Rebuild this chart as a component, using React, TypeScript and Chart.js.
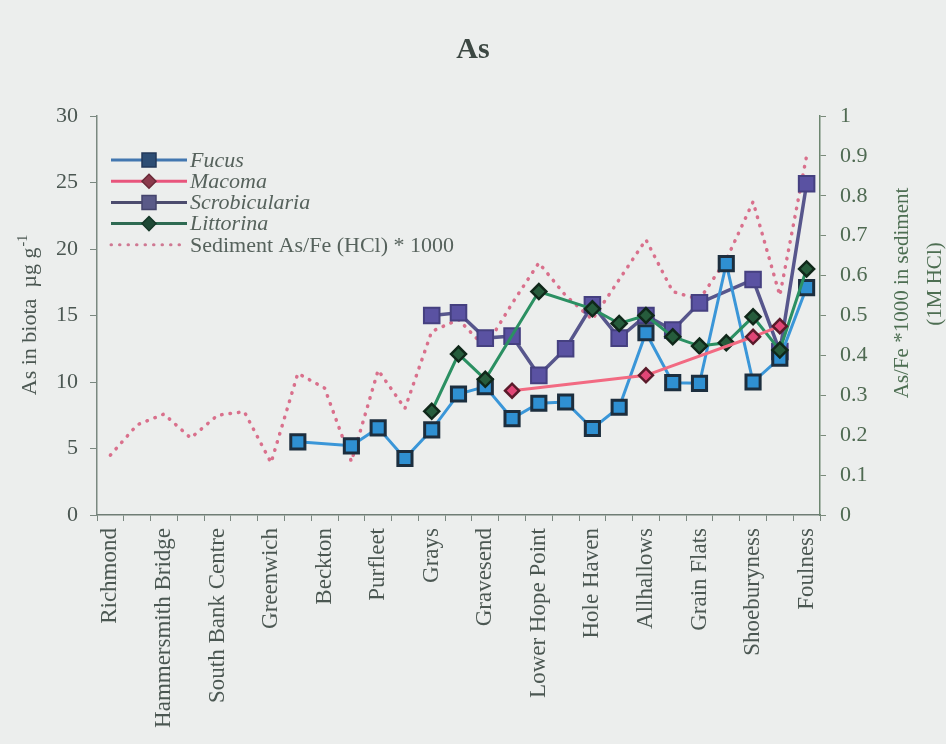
import React, { useEffect, useRef } from 'react';
import { Chart, registerables } from 'chart.js';

Chart.register(...registerables);

// ---- data ----
const sites: string[] = [
  'Richmond', '', 'Hammersmith Bridge', '', 'South Bank Centre', '', 'Greenwich', '',
  'Beckton', '', 'Purfleet', '', 'Grays', '', 'Gravesend', '', 'Lower Hope Point', '',
  'Hole Haven', '', 'Allhallows', '', 'Grain Flats', '', 'Shoeburyness', '', 'Foulness',
];

const fucus: (number | null)[] = [
  null, null, null, null, null, null, null, 5.5, null, 5.2, 6.55, 4.25, 6.4, 9.1,
  9.65, 7.25, 8.4, 8.5, 6.5, 8.1, 13.7, 9.95, 9.9, 18.9, 10.0, 11.8, 17.1,
];
const macoma: (number | null)[] = [
  null, null, null, null, null, null, null, null, null, null, null, null, null, null,
  null, 9.35, null, null, null, null, 10.5, null, null, null, 13.4, 14.2, null,
];
const scrobicularia: (number | null)[] = [
  null, null, null, null, null, null, null, null, null, null, null, null, 15.0, 15.2,
  13.3, 13.45, 10.5, 12.5, 15.8, 13.3, 15.0, 13.9, 15.95, null, 17.7, 12.3, 24.9,
];
const littorina: (number | null)[] = [
  null, null, null, null, null, null, null, null, null, null, null, null, 7.8, 12.1,
  10.2, null, 16.8, null, 15.5, 14.4, 15.0, 13.4, 12.7, 12.95, 14.9, 12.4, 18.5,
];
const sediment: number[] = [
  0.15, 0.226, 0.253, 0.193, 0.25, 0.259, 0.131, 0.355, 0.318, 0.134, 0.363, 0.267, 0.46, 0.49,
  0.42, 0.53, 0.632, 0.55, 0.49, 0.59, 0.69, 0.56, 0.54, 0.64, 0.785, 0.55, 0.9,
];

const legendLabels = ['Fucus', 'Macoma', 'Scrobicularia', 'Littorina', 'Sediment As/Fe (HCl) * 1000'];
const chartTitle = 'As';
const leftTitle = 'As in biota  \u00b5g g';
const leftTitleSup = '-1';
const rightTitle1 = 'As/Fe *1000 in sediment';
const rightTitle2 = '(1M HCl)';

// ---- styling ----
const BG = '#eceeed';
const TEXT = '#4b5752';
const SERIF = '"Liberation Serif", "Times New Roman", serif';

type LegendEntry = {
  line: string; marker: string | null; fill: string; stroke: string; r: number; italic: boolean; dotted?: boolean;
};
const legendStyles: LegendEntry[] = [
  { line: '#4277b0', marker: 'rect', fill: '#2d4d74', stroke: '#22395a', r: 7, italic: true },
  { line: '#e8557c', marker: 'diamond', fill: '#8a3a4c', stroke: '#6a2a38', r: 7, italic: true },
  { line: '#4c4c6e', marker: 'rect', fill: '#5a5a88', stroke: '#44446c', r: 7, italic: true },
  { line: '#2e6a52', marker: 'diamond', fill: '#1f4a36', stroke: '#173a2a', r: 7, italic: true },
  { line: '#cf7892', marker: null, fill: '', stroke: '', r: 0, italic: false, dotted: true },
];

function drawMarker(ctx: CanvasRenderingContext2D, kind: string, x: number, y: number, r: number, fill: string, stroke: string) {
  ctx.beginPath();
  if (kind === 'rect') {
    ctx.rect(x - r, y - r, 2 * r, 2 * r);
  } else {
    ctx.moveTo(x, y - r);
    ctx.lineTo(x + r, y);
    ctx.lineTo(x, y + r);
    ctx.lineTo(x - r, y);
    ctx.closePath();
  }
  ctx.fillStyle = fill;
  ctx.fill();
  ctx.lineWidth = 1.5;
  ctx.strokeStyle = stroke;
  ctx.stroke();
}

const decorPlugin = {
  id: 'decor',
  beforeDraw(chart: any) {
    const ctx = chart.ctx as CanvasRenderingContext2D;
    ctx.save();
    ctx.fillStyle = BG;
    ctx.fillRect(0, 0, chart.width, chart.height);
    ctx.restore();
  },
  afterDraw(chart: any) {
    const ctx = chart.ctx as CanvasRenderingContext2D;
    const area = chart.chartArea;
    ctx.save();
    // title
    ctx.fillStyle = '#3d4843';
    ctx.font = `bold 30px ${SERIF}`;
    ctx.textAlign = 'center';
    ctx.textBaseline = 'middle';
    ctx.fillText(chartTitle, 473, 50);

    // left axis title with superscript
    ctx.save();
    ctx.translate(29, (area.top + area.bottom) / 2);
    ctx.rotate(-Math.PI / 2);
    ctx.font = `22px ${SERIF}`;
    const w1 = ctx.measureText(leftTitle).width;
    ctx.font = `14px ${SERIF}`;
    const w2 = ctx.measureText(leftTitleSup).width;
    const start = -(w1 + w2) / 2;
    ctx.textAlign = 'left';
    ctx.textBaseline = 'alphabetic';
    ctx.fillStyle = TEXT;
    ctx.font = `22px ${SERIF}`;
    ctx.fillText(leftTitle, start, 7);
    ctx.font = `14px ${SERIF}`;
    ctx.fillText(leftTitleSup, start + w1 + 1, -2);
    ctx.restore();

    // right axis title (reads bottom to top)
    ctx.save();
    ctx.fillStyle = '#4d6e52';
    ctx.font = `21px ${SERIF}`;
    ctx.textAlign = 'center';
    ctx.textBaseline = 'middle';
    ctx.translate(902, 293);
    ctx.rotate(-Math.PI / 2);
    ctx.fillText(rightTitle1, 0, 0);
    ctx.restore();
    ctx.save();
    ctx.fillStyle = '#4d6e52';
    ctx.font = `21px ${SERIF}`;
    ctx.textAlign = 'center';
    ctx.textBaseline = 'middle';
    ctx.translate(935, 284);
    ctx.rotate(-Math.PI / 2);
    ctx.fillText(rightTitle2, 0, 0);
    ctx.restore();

    // legend
    const x0 = 111, x1 = 187, xm = 149, xt = 190;
    legendLabels.forEach((label, i) => {
      const st = legendStyles[i];
      const y = 160 + i * 21.2;
      ctx.save();
      ctx.strokeStyle = st.line;
      if (st.dotted) {
        ctx.lineWidth = 3;
        ctx.lineCap = 'round';
        ctx.setLineDash([0.5, 8]);
      } else {
        ctx.lineWidth = 3;
      }
      ctx.beginPath();
      ctx.moveTo(x0, y);
      ctx.lineTo(x1, y);
      ctx.stroke();
      ctx.restore();
      if (st.marker) drawMarker(ctx, st.marker, xm, y, st.r, st.fill, st.stroke);
      ctx.fillStyle = '#56625c';
      ctx.font = `${st.italic ? 'italic ' : ''}22px ${SERIF}`;
      ctx.textAlign = 'left';
      ctx.textBaseline = 'middle';
      ctx.fillText(label, xt, y + 1);
    });
    ctx.restore();
  },
};

export default function App() {
  const ref = useRef<HTMLCanvasElement | null>(null);

  useEffect(() => {
    if (!ref.current) return;
    const chart = new Chart(ref.current, {
      type: 'line',
      data: {
        labels: sites,
        datasets: [
          {
            label: legendLabels[1],
            data: macoma,
            yAxisID: 'y',
            borderColor: '#f26a82',
            borderWidth: 3,
            pointStyle: 'rectRot',
            pointRadius: 7,
            pointBackgroundColor: '#e04676',
            pointBorderColor: '#5a1a2a',
            pointBorderWidth: 2.5,
            spanGaps: true,
            tension: 0,
          },
          {
            label: legendLabels[3],
            data: littorina,
            yAxisID: 'y',
            borderColor: '#2b9062',
            borderWidth: 3,
            pointStyle: 'rectRot',
            pointRadius: 7.5,
            pointBackgroundColor: '#265c3c',
            pointBorderColor: '#10281a',
            pointBorderWidth: 2.5,
            spanGaps: true,
            tension: 0,
          },
          {
            label: legendLabels[0],
            data: fucus,
            yAxisID: 'y',
            borderColor: '#3a96d8',
            borderWidth: 3,
            pointStyle: 'rect',
            pointRadius: 10,
            pointBackgroundColor: '#2f90d2',
            pointBorderColor: '#1c2e3e',
            pointBorderWidth: 3,
            spanGaps: true,
            tension: 0,
          },
          {
            label: legendLabels[2],
            data: scrobicularia,
            yAxisID: 'y',
            borderColor: '#57568c',
            borderWidth: 3.5,
            pointStyle: 'rect',
            pointRadius: 11,
            pointBackgroundColor: '#5a52a2',
            pointBorderColor: '#454080',
            pointBorderWidth: 2,
            spanGaps: true,
            tension: 0,
          },
          {
            label: legendLabels[4],
            data: sediment,
            yAxisID: 'y1',
            borderColor: '#d9708c',
            borderWidth: 3.5,
            borderDash: [0.5, 8],
            borderCapStyle: 'round',
            pointRadius: 0,
            spanGaps: true,
            tension: 0,
          },
        ],
      },
      options: {
        responsive: false,
        animation: false,
        devicePixelRatio: 1,
        layout: { padding: { top: 116, left: 0, right: 0, bottom: 0 } },
        plugins: {
          legend: { display: false },
          title: { display: false },
          tooltip: { enabled: false },
        },
        scales: {
          x: {
            type: 'category',
            offset: true,
            grid: {
              display: true,
              offset: true,
              drawOnChartArea: false,
              drawTicks: true,
              tickLength: 6,
              color: '#7a8880',
            },
            border: { display: true, color: '#6f7d75', width: 1.5 },
            ticks: {
              autoSkip: false,
              maxRotation: 90,
              minRotation: 90,
              padding: 7,
              color: TEXT,
              font: { family: SERIF, size: 23 },
            },
            afterFit: (s: any) => { s.height = 229; },
          },
          y: {
            position: 'left',
            min: 0,
            max: 30,
            ticks: {
              stepSize: 5,
              padding: 12,
              color: TEXT,
              font: { family: SERIF, size: 22 },
            },
            grid: {
              display: true,
              drawOnChartArea: false,
              drawTicks: true,
              tickLength: 7,
              color: '#7a8880',
            },
            border: { display: true, color: '#7a8880', width: 1.5 },
            afterFit: (s: any) => { s.width = 97; },
          },
          y1: {
            position: 'right',
            min: 0,
            max: 1,
            ticks: {
              stepSize: 0.1,
              padding: 14,
              color: '#4f6a52',
              font: { family: SERIF, size: 22 },
              callback: (v: any) => String(Math.round(Number(v) * 10) / 10),
            },
            grid: {
              display: true,
              drawOnChartArea: false,
              drawTicks: true,
              tickLength: 6,
              color: '#7a8a7a',
            },
            border: { display: true, color: '#6d8670', width: 1.5 },
            afterFit: (s: any) => { s.width = 126; },
          },
        },
      },
      plugins: [decorPlugin],
    } as any);
    return () => chart.destroy();
  }, []);

  return (
    <div style={{ position: 'fixed', left: 0, top: 0, width: 946, height: 744, background: BG }}>
      <canvas ref={ref} width={946} height={744} style={{ display: 'block', width: 946, height: 744 }} />
    </div>
  );
}
